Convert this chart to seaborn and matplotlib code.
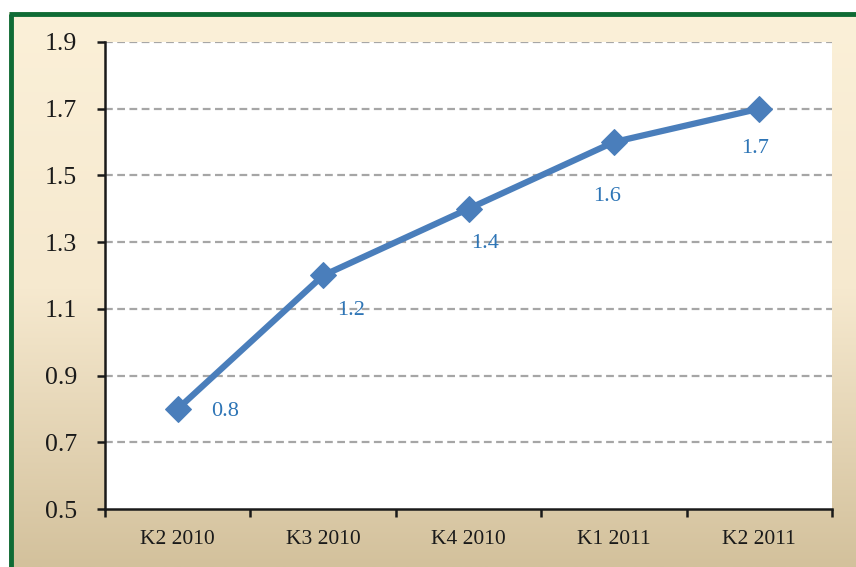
import numpy as np
import pandas as pd
import matplotlib
matplotlib.use("Agg")
import matplotlib.pyplot as plt
import seaborn as sns
from matplotlib.colors import LinearSegmentedColormap

categories = ["K2 2010", "K3 2010", "K4 2010", "K1 2011", "K2 2011"]
values = [0.8, 1.2, 1.4, 1.6, 1.7]
label_texts = ["0.8", "1.2", "1.4", "1.6", "1.7"]
yticks = [0.5, 0.7, 0.9, 1.1, 1.3, 1.5, 1.7, 1.9]

sns.set_style("white")
plt.rcParams["font.family"] = ["Liberation Serif", "DejaVu Serif"]

W, H = 856, 567
fig = plt.figure(figsize=(W / 100, H / 100), dpi=100)
fig.patch.set_facecolor("white")

# background gradient panel
bg = fig.add_axes([9 / W, 0, 1 - 9 / W, 1 - 12 / H])
bg.set_axis_off()
cmap = LinearSegmentedColormap.from_list("g", ["#fbf0d8", "#f6e9cf", "#d3c19c"])
grad = np.linspace(0, 1, 256).reshape(-1, 1)
bg.imshow(grad, aspect="auto", cmap=cmap, extent=[0, 1, 0, 1], origin="upper")
bg.set_xlim(0, 1)
bg.set_ylim(0, 1)
bg.plot([0.002, 0.002], [0, 0.996], color="#0f6b35", lw=3.5, solid_capstyle="butt")
bg.plot([0.0, 1.0], [0.996, 0.996], color="#0f6b35", lw=3.5, solid_capstyle="butt")

ax = fig.add_axes([105 / W, 1 - 509 / H, (832 - 105) / W, (509 - 42) / H])
ax.set_facecolor("white")

df = pd.DataFrame({"cat": categories, "val": values})
df["x"] = np.arange(len(categories))
sns.lineplot(data=df, x="x", y="val", ax=ax, color="#4a7ebb", lw=4.5,
             marker="D", markersize=13, markeredgecolor="#4a7ebb", zorder=5)

ax.set_xlim(-0.5, len(categories) - 0.5)
ax.set_ylim(0.5, 1.9)
ax.set_yticks(yticks)
ax.set_yticklabels([f"{t:.1f}" for t in yticks], fontsize=18.5, color="#1a1a1a")
ax.set_xticks(np.arange(len(categories)))
ax.set_xticklabels(categories, fontsize=15.5, color="#1a1a1a")
ax.tick_params(axis="x", which="major", length=0, pad=15, bottom=True)
ax.set_xticks(np.arange(-0.5, len(categories), 1.0), minor=True)
ax.tick_params(axis="x", which="minor", length=6, width=1.8, color="#1a1a1a",
               direction="out", bottom=True)
ax.tick_params(axis="y", which="major", length=6, width=1.8, color="#1a1a1a",
               direction="out", pad=14, left=True)
ax.set_xlabel("")
ax.set_ylabel("")

for y in yticks[1:]:
    ax.axhline(y, color="#a6a6a6", lw=1.6, ls=(0, (3.5, 2)), zorder=1)

for s in ["top", "right"]:
    ax.spines[s].set_visible(False)
for s in ["left", "bottom"]:
    ax.spines[s].set_color("#1a1a1a")
    ax.spines[s].set_linewidth(1.8)

offsets = [(34, -2), (20, -25), (12, -25), (-5, -39), (-3, -29)]
for i, (v, t) in enumerate(zip(values, label_texts)):
    ax.annotate(t, (i, v), xytext=offsets[i], textcoords="offset points",
                ha="center", va="center", fontsize=16, color="#2e75b6")

fig.savefig("out.png", dpi=100, facecolor=fig.get_facecolor())
